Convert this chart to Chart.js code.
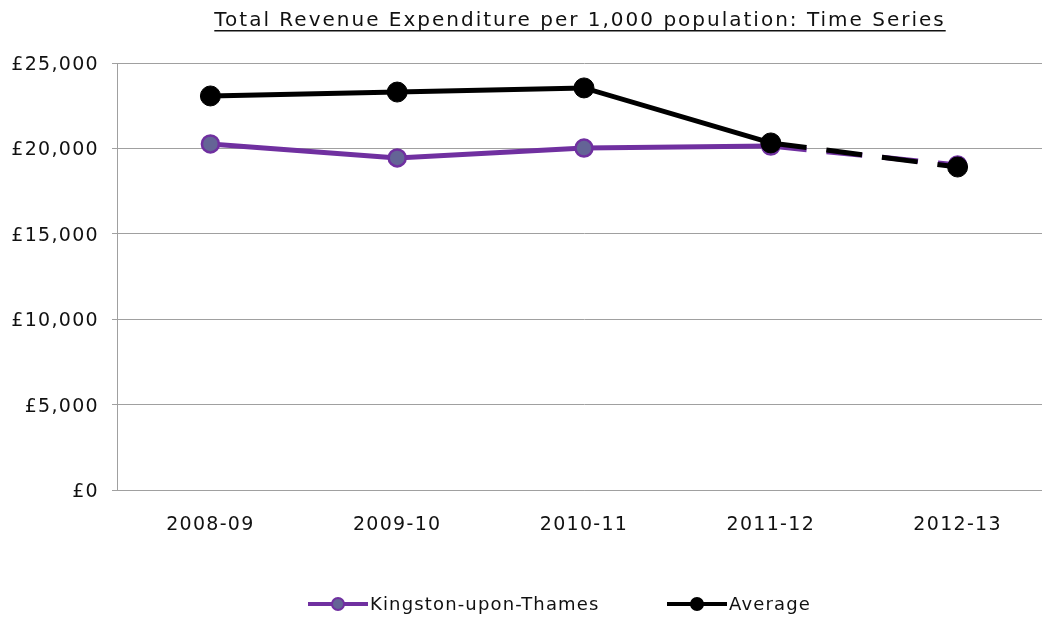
<!DOCTYPE html>
<html>
<head>
<meta charset="utf-8">
<script src="https://cdn.jsdelivr.net/npm/chart.js@4.4.0/dist/chart.umd.min.js"></script>
<style>
  html, body { margin: 0; padding: 0; background: #fff; }
  #wrap { width: 1042px; height: 617px; overflow: hidden; position: relative; }
  canvas { display: block; }
</style>
</head>
<body>
<div id="wrap"><canvas id="grafica" width="1062" height="617"></canvas></div>
<script>
const categorias = ['2008-09', '2009-10', '2010-11', '2011-12', '2012-13'];
const kingston = [20260, 19440, 20020, 20140, 19030];
const media = [23070, 23300, 23540, 20320, 18910];
const ticks_y = [0, 5000, 10000, 15000, 20000, 25000];
const titulo = 'Total Revenue Expenditure per 1,000 population: Time Series';

const FUENTE = '"DejaVu Sans", Verdana, sans-serif';
const PURPURA = '#7030A0';
const RELLENO = '#646496';

// tramo discontinuo entre las dos ultimas categorias
const discontinuo = ctx => ctx.p1DataIndex === categorias.length - 1 ? [36, 20] : undefined;

const extras = {
  id: 'extras',
  beforeDraw(chart) {
    chart.ctx.letterSpacing = '1.3px';
  },
  afterDraw(chart) {
    const c = chart.ctx;
    c.save();
    // titulo subrayado
    c.letterSpacing = '2px';
    c.font = '20px ' + FUENTE;
    c.fillStyle = '#111';
    c.textAlign = 'center';
    c.textBaseline = 'alphabetic';
    const cx = 580;
    c.fillText(titulo, cx, 26);
    const w = c.measureText(titulo).width;
    c.fillRect(cx - w / 2, 30, w, 1.5);

    // leyenda
    const items = [
      {txt: 'Kingston-upon-Thames', x: 308, linea: PURPURA, fill: RELLENO, borde: PURPURA},
      {txt: 'Average', x: 667, linea: '#000', fill: '#000', borde: '#000'}
    ];
    const y = 604;
    c.letterSpacing = '1.15px';
    c.font = '18px ' + FUENTE;
    c.textAlign = 'left';
    c.textBaseline = 'middle';
    items.forEach(it => {
      c.strokeStyle = it.linea;
      c.lineWidth = 4;
      c.beginPath(); c.moveTo(it.x, y); c.lineTo(it.x + 60, y); c.stroke();
      c.beginPath(); c.arc(it.x + 30, y, 6, 0, Math.PI * 2);
      c.fillStyle = it.fill; c.fill();
      c.lineWidth = 2; c.strokeStyle = it.borde; c.stroke();
      c.fillStyle = '#111';
      c.fillText(it.txt, it.x + 62, y + 1);
    });
    c.restore();
    c.letterSpacing = '0px';
  }
};

new Chart(document.getElementById('grafica'), {
  type: 'line',
  data: {
    labels: categorias,
    datasets: [{
      label: 'Kingston-upon-Thames',
      data: kingston,
      borderColor: PURPURA,
      backgroundColor: RELLENO,
      pointBackgroundColor: RELLENO,
      pointBorderColor: PURPURA,
      pointBorderWidth: 2.5,
      pointRadius: 8.5,
      borderWidth: 5,
      tension: 0,
      order: 1,
      segment: { borderDash: discontinuo }
    }, {
      label: 'Average',
      data: media,
      borderColor: '#000',
      backgroundColor: '#000',
      pointBackgroundColor: '#000',
      pointBorderColor: '#000',
      pointBorderWidth: 1,
      pointRadius: 10,
      borderWidth: 5,
      tension: 0,
      order: 0,
      segment: { borderDash: discontinuo }
    }]
  },
  options: {
    responsive: false,
    animation: false,
    layout: { padding: { top: 63, right: 9, left: 0, bottom: 0 } },
    plugins: {
      legend: { display: false },
      title: { display: false },
      tooltip: { enabled: false }
    },
    scales: {
      x: {
        offset: true,
        grid: { display: false },
        border: { display: true, color: '#a0a0a0', width: 1 },
        ticks: { color: '#111', font: { family: FUENTE, size: 19 }, padding: 16 },
        afterFit(scale) { scale.height = 127; }
      },
      y: {
        min: 0,
        max: 25000,
        afterBuildTicks(scale) { scale.ticks = ticks_y.map(v => ({value: v})); },
        grid: { color: '#a0a0a0', tickLength: 5, tickColor: '#a0a0a0' },
        border: { display: true, color: '#a0a0a0' },
        ticks: {
          color: '#111',
          font: { family: FUENTE, size: 19 },
          padding: 13,
          labelOffset: 2,
          callback: v => '£' + v.toLocaleString('en-GB')
        },
        afterFit(scale) { scale.width = 117; }
      }
    }
  },
  plugins: [extras]
});
</script>
</body>
</html>
